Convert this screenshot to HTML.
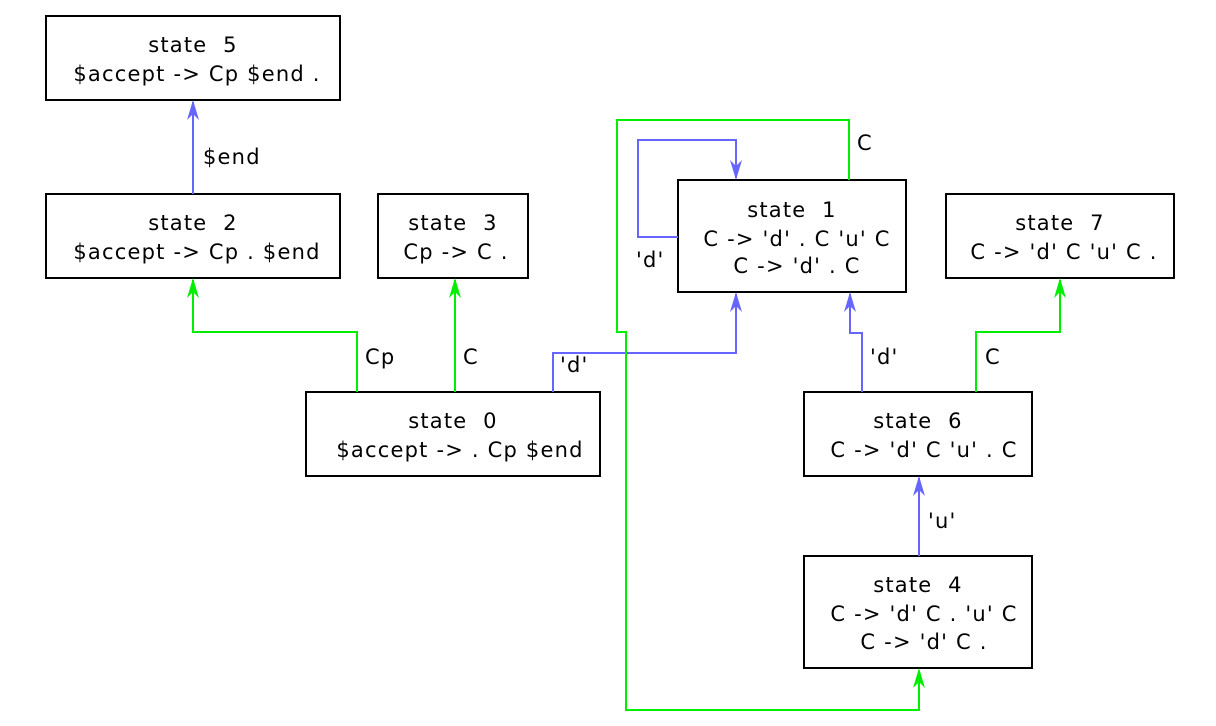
<!DOCTYPE html>
<html><head><meta charset="utf-8"><style>
html,body{margin:0;padding:0;background:#fff;width:1216px;height:726px;overflow:hidden}
svg text{font-family:"DejaVu Sans","Liberation Sans",sans-serif !important;font-size:21px !important;letter-spacing:1.2px;white-space:pre}
</style></head><body>
<svg width="1216" height="726" xmlns="http://www.w3.org/2000/svg">
<g fill="#fff" stroke="#000" stroke-width="2">
<rect x="46" y="16" width="294" height="84"/>
<rect x="46" y="194" width="294" height="84"/>
<rect x="378" y="194" width="150" height="84"/>
<rect x="306" y="392" width="294" height="84"/>
<rect x="678" y="180" width="228" height="112"/>
<rect x="946" y="194" width="228" height="84"/>
<rect x="804" y="392" width="228" height="84"/>
<rect x="804" y="556" width="228" height="112"/>
</g>
<g fill="none" stroke-width="2">
<path d="M193,194 V102" stroke="#6666ff"/>
<path d="M357,392 V332 H193 V280" stroke="#00ee00"/>
<path d="M455,392 V280" stroke="#00ee00"/>
<path d="M553,392 V353 H736 V294" stroke="#6666ff"/>
<path d="M678,237 H638 V140 H736 V178" stroke="#6666ff"/>
<path d="M862,392 V333 H850 V294" stroke="#6666ff"/>
<path d="M976,392 V332 H1060 V280" stroke="#00ee00"/>
<path d="M919,556 V478" stroke="#6666ff"/>
<path d="M849,180 V120 H617 V332 H626 V710 H919 V672" stroke="#00ee00"/>
</g>
<g stroke="none">
<path d="M187,120 L193,100 L199,120 L193,114 Z" fill="#6666ff"/>
<path d="M187,298 L193,278 L199,298 L193,292 Z" fill="#00ee00"/>
<path d="M449,298 L455,278 L461,298 L455,292 Z" fill="#00ee00"/>
<path d="M730,312 L736,292 L742,312 L736,306 Z" fill="#6666ff"/>
<path d="M844,312 L850,292 L856,312 L850,306 Z" fill="#6666ff"/>
<path d="M1054,298 L1060,278 L1066,298 L1060,292 Z" fill="#00ee00"/>
<path d="M913,496 L919,476 L925,496 L919,490 Z" fill="#6666ff"/>
<path d="M913,688 L919,668 L925,688 L919,682 Z" fill="#00ee00"/>
<path d="M730,160 L736,180 L742,160 L736,166 Z" fill="#6666ff"/>
</g>
<g text-anchor="middle" fill="#000">
<text x="193" y="52">state  5</text><text x="197" y="81">$accept -&gt; Cp $end .</text>
<text x="193" y="230">state  2</text><text x="197" y="259">$accept -&gt; Cp . $end</text>
<text x="453" y="230">state  3</text><text x="456" y="259">Cp -&gt; C .</text>
<text x="453" y="428">state  0</text><text x="460" y="457">$accept -&gt; . Cp $end</text>
<text x="792" y="217">state  1</text><text x="797" y="246">C -&gt; 'd' . C 'u' C</text><text x="797" y="273">C -&gt; 'd' . C</text>
<text x="1060" y="230">state  7</text><text x="1064" y="259">C -&gt; 'd' C 'u' C .</text>
<text x="918" y="428">state  6</text><text x="924" y="457">C -&gt; 'd' C 'u' . C</text>
<text x="918" y="592">state  4</text><text x="924" y="621">C -&gt; 'd' C . 'u' C</text><text x="924" y="649">C -&gt; 'd' C .</text>
</g>
<g fill="#000">
<text x="203" y="164">$end</text>
<text x="365" y="364">Cp</text>
<text x="463" y="364">C</text>
<text x="560" y="372">'d'</text>
<text x="636" y="267">'d'</text>
<text x="857" y="150">C</text>
<text x="870" y="364">'d'</text>
<text x="985" y="364">C</text>
<text x="928" y="528">'u'</text>
</g>
</svg>
</body></html>
